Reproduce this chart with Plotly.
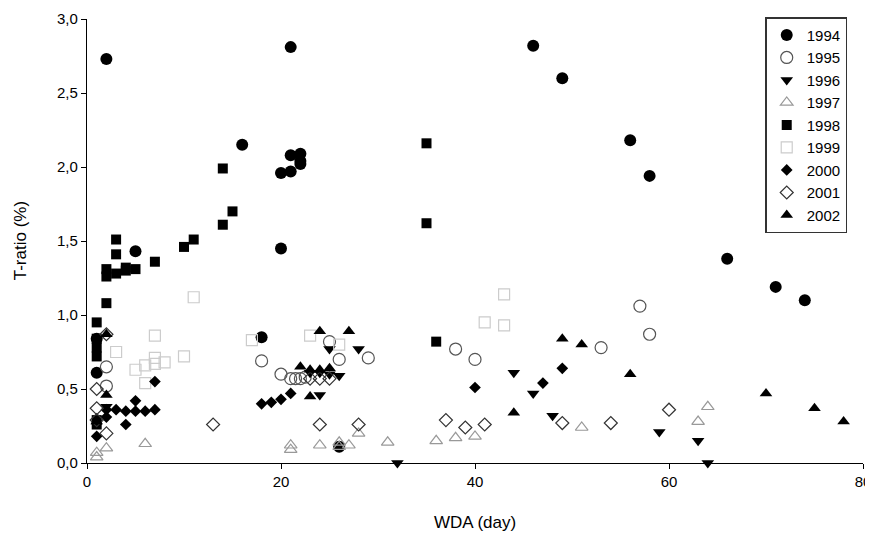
import plotly.graph_objects as go

# ---- data ----
x1994 = [2, 21, 20, 21, 21, 22, 22, 22, 20, 18, 5, 16, 46, 49, 56, 58, 66, 71, 74, 1, 1, 26]
y1994 = [2.73, 2.81, 1.96, 1.97, 2.08, 2.09, 2.02, 2.04, 1.45, 0.85, 1.43, 2.15, 2.82, 2.60, 2.18, 1.94, 1.38, 1.19, 1.10, 0.84, 0.61, 0.11]

x1995 = [2, 2, 18, 20, 21, 21.5, 22, 22.5, 25, 26, 29, 38, 40, 53, 57, 58]
y1995 = [0.65, 0.52, 0.69, 0.60, 0.57, 0.57, 0.57, 0.58, 0.82, 0.70, 0.71, 0.77, 0.70, 0.78, 1.06, 0.87]

x1996 = [2, 25, 28, 23, 24, 25, 26, 24, 32, 44, 46, 48, 59, 63, 64]
y1996 = [0.38, 0.77, 0.77, 0.61, 0.61, 0.60, 0.59, 0.46, 0.0, 0.61, 0.47, 0.32, 0.21, 0.15, 0.0]

x1997 = [1, 1, 2, 6, 21, 21, 24, 26, 26, 27, 28, 31, 36, 38, 40, 51, 63, 64]
y1997 = [0.07, 0.04, 0.10, 0.13, 0.12, 0.09, 0.12, 0.14, 0.11, 0.12, 0.20, 0.14, 0.15, 0.17, 0.18, 0.24, 0.28, 0.38]

x1998 = [1, 1, 1, 1, 1, 1, 2, 2, 2, 3, 3, 3, 4, 4, 5, 7, 10, 11, 14, 15, 14, 35, 35, 36]
y1998 = [0.95, 0.84, 0.78, 0.72, 0.29, 0.26, 1.08, 1.31, 1.26, 1.51, 1.41, 1.28, 1.32, 1.30, 1.31, 1.36, 1.46, 1.51, 1.61, 1.70, 1.99, 2.16, 1.62, 0.82]

x1999 = [3, 5, 6, 7, 7, 7, 8, 6, 10, 11, 17, 23, 26, 41, 43, 43]
y1999 = [0.75, 0.63, 0.66, 0.86, 0.71, 0.67, 0.68, 0.54, 0.72, 1.12, 0.83, 0.86, 0.80, 0.95, 1.14, 0.93]

x2000 = [7, 5, 2, 3, 4, 5, 6, 7, 4, 1, 2, 18, 19, 20, 21, 40, 47, 49]
y2000 = [0.55, 0.42, 0.36, 0.36, 0.35, 0.35, 0.35, 0.36, 0.26, 0.18, 0.31, 0.40, 0.41, 0.43, 0.47, 0.51, 0.54, 0.64]

x2001 = [1, 1, 1, 2, 2, 13, 23, 24, 25, 24, 28, 37, 39, 41, 49, 54, 60]
y2001 = [0.50, 0.37, 0.29, 0.20, 0.87, 0.26, 0.57, 0.57, 0.57, 0.26, 0.26, 0.29, 0.24, 0.26, 0.27, 0.27, 0.36]

x2002 = [2, 2, 1, 22, 23, 24, 25, 23, 24, 27, 44, 49, 51, 56, 70, 75, 78]
y2002 = [0.87, 0.46, 0.28, 0.65, 0.63, 0.63, 0.64, 0.45, 0.89, 0.89, 0.34, 0.84, 0.80, 0.60, 0.47, 0.37, 0.28]

x_ticks = [0, 20, 40, 60, 80]
y_ticks = [0.0, 0.5, 1.0, 1.5, 2.0, 2.5, 3.0]

series = [
    ("1994", x1994, y1994, dict(symbol="circle", size=12, color="black", line=dict(width=0))),
    ("1995", x1995, y1995, dict(symbol="circle-open", size=12, color="#555555", line=dict(width=1.2))),
    ("1996", x1996, y1996, dict(symbol="triangle-down", size=11, color="black", line=dict(width=0))),
    ("1997", x1997, y1997, dict(symbol="triangle-up-open", size=11, color="#999999", line=dict(width=1.2))),
    ("1998", x1998, y1998, dict(symbol="square", size=10, color="black", line=dict(width=0))),
    ("1999", x1999, y1999, dict(symbol="square-open", size=11, color="#cccccc", line=dict(width=1.2))),
    ("2000", x2000, y2000, dict(symbol="diamond", size=9, color="black", line=dict(width=0))),
    ("2001", x2001, y2001, dict(symbol="diamond-open", size=10, color="#333333", line=dict(width=1.2))),
    ("2002", x2002, y2002, dict(symbol="triangle-up", size=11, color="black", line=dict(width=0))),
]

fig = go.Figure()
for name, xs, ys, mk in series:
    fig.add_trace(go.Scatter(x=xs, y=ys, mode="markers", name=name, marker=mk, cliponaxis=False))

font_family = "Liberation Sans, Arial, sans-serif"
fig.update_layout(
    width=865, height=527,
    margin=dict(l=79, r=10, t=11, b=72, autoexpand=False),
    paper_bgcolor="white", plot_bgcolor="white",
    separators=",.",
    font=dict(family=font_family, size=15, color="black"),
    showlegend=True,
    legend=dict(
        x=0.874, y=1.004, xanchor="left", yanchor="top",
        bordercolor="#333333", borderwidth=1.5, bgcolor="white",
        font=dict(size=15, color="black"), tracegroupgap=0,
        itemsizing="trace",
    ),
    annotations=[
        dict(text="WDA (day)", xref="paper", yref="paper", x=0.5, y=-0.133,
             xanchor="center", yanchor="middle", showarrow=False, font=dict(size=17)),
        dict(text="T-ratio (%)", xref="paper", yref="paper", x=-0.086, y=0.5,
             xanchor="center", yanchor="middle", showarrow=False, textangle=-90,
             font=dict(size=17)),
    ],
)
fig.update_xaxes(
    range=[0, 80], tickvals=x_ticks, ticktext=[str(v) for v in x_ticks],
    showline=True, linecolor="black", linewidth=1.2, mirror=False, automargin=False,
    ticks="outside", ticklen=5, tickcolor="black", showgrid=False, zeroline=False,
    tickfont=dict(size=15),
)
fig.update_yaxes(
    range=[0, 3.0], tickvals=y_ticks, tickformat=".1f",
    showline=True, linecolor="black", linewidth=1.2, mirror=False, automargin=False,
    ticks="outside", ticklen=5, tickcolor="black", showgrid=False, zeroline=False,
    tickfont=dict(size=15),
)

fig.write_html("out.html")
